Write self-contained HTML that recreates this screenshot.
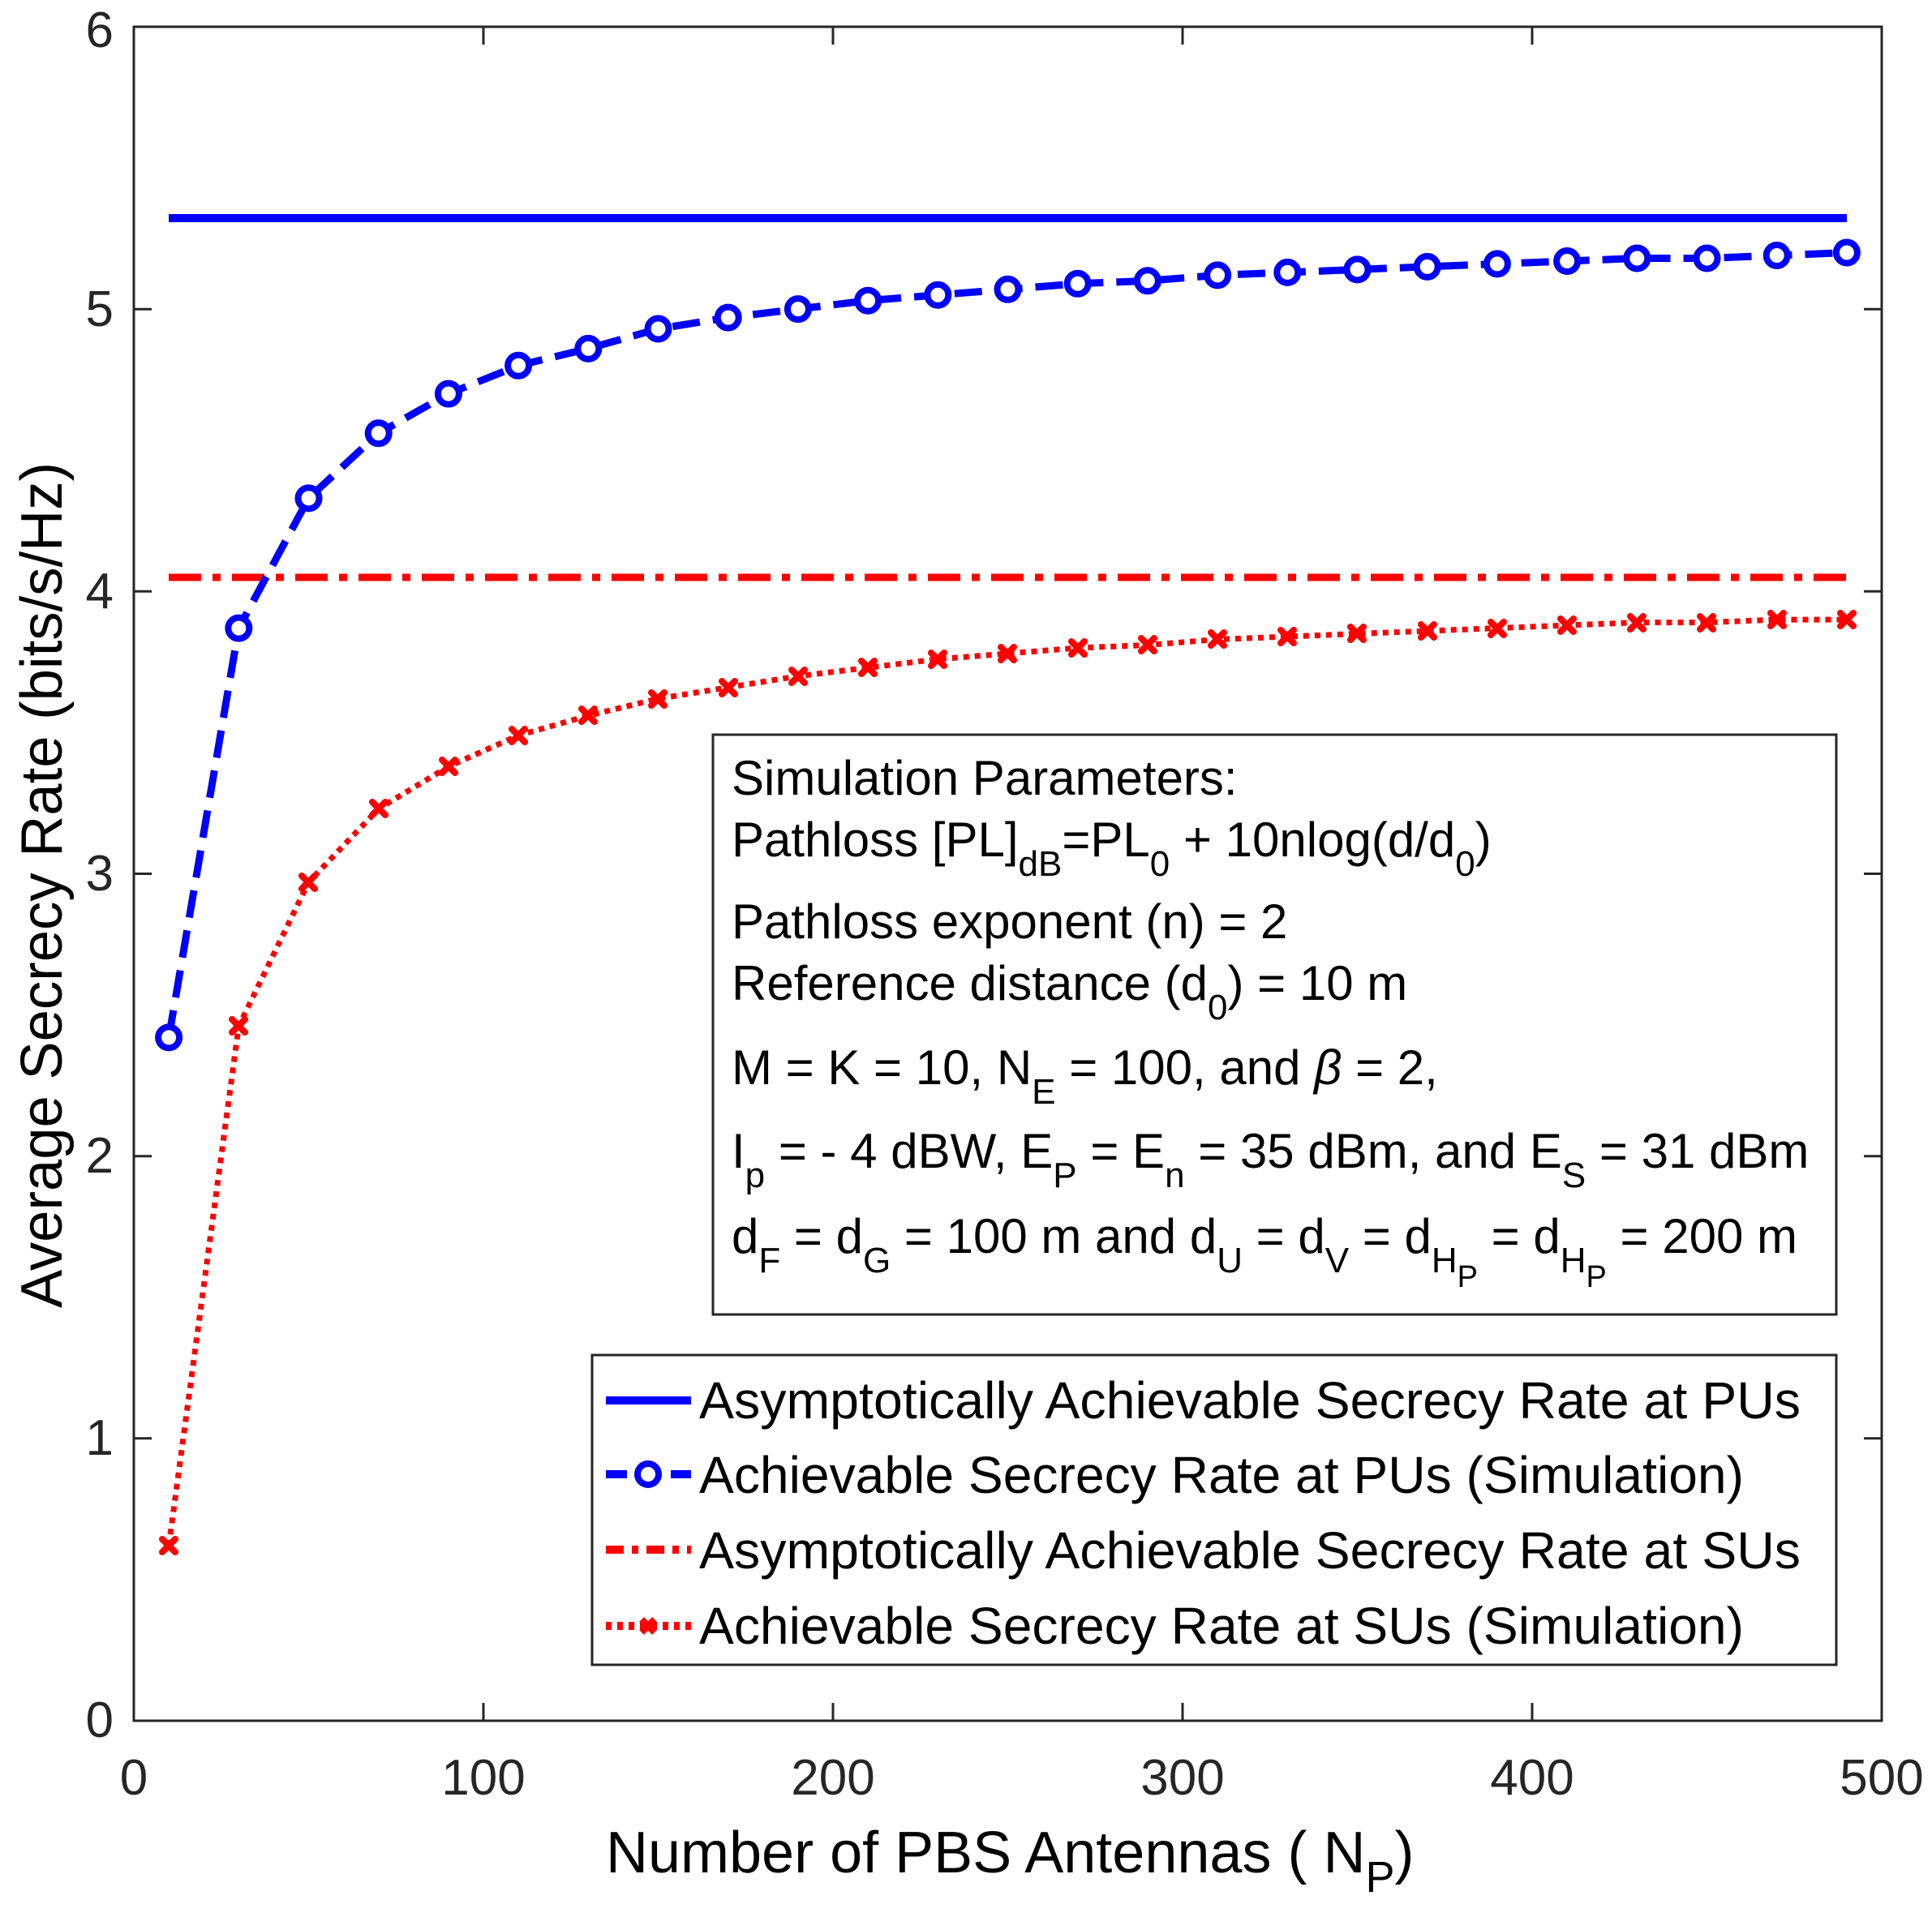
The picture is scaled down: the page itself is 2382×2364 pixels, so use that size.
<!DOCTYPE html>
<html><head><meta charset="utf-8"><style>html,body{margin:0;padding:0;background:#fff}svg{display:block}</style></head>
<body>
<svg xmlns="http://www.w3.org/2000/svg" width="2382" height="2364" viewBox="0 0 2382 2364" font-family="Liberation Sans, Arial, sans-serif">
<rect width="2382" height="2364" fill="#fff"/>
<g stroke="#262626" stroke-width="3">
<path d="M596 2122v-22M1027 2122v-22M1458 2122v-22M1889 2122v-22M596 33v22M1027 33v22M1458 33v22M1889 33v22"/>
<path d="M165 1773.8h22M165 1425.7h22M165 1077.5h22M165 729.3h22M165 381.2h22M2320 1773.8h-22M2320 1425.7h-22M2320 1077.5h-22M2320 729.3h-22M2320 381.2h-22"/>
</g>
<g fill="#262626" font-size="62">
<g text-anchor="end">
<text x="140" y="2142">0</text><text x="140" y="1794">1</text><text x="140" y="1446">2</text><text x="140" y="1098">3</text><text x="140" y="750">4</text><text x="140" y="402">5</text><text x="140" y="58">6</text>
</g>
<g text-anchor="middle">
<text x="165" y="2213">0</text><text x="596" y="2213">100</text><text x="1027" y="2213">200</text><text x="1458" y="2213">300</text><text x="1889" y="2213">400</text><text x="2320" y="2213">500</text>
</g>
</g>
<text x="747" y="2309" font-size="72" fill="#000">Number of PBS Antennas ( N<tspan font-size="54" dy="24">P</tspan><tspan dy="-24">)</tspan></text>
<text transform="translate(76,1613) rotate(-90)" font-size="72" fill="#000" textLength="1043" lengthAdjust="spacingAndGlyphs">Average Secrecy Rate (bits/s/Hz)</text>

<line x1="208" y1="269" x2="2277" y2="269" stroke="#0000ff" stroke-width="10"/>
<line x1="208" y1="712" x2="2277" y2="712" stroke="#ff0000" stroke-width="9" stroke-dasharray="40 14 10 14"/>
<polyline fill="none" stroke="#0000ff" stroke-width="9" stroke-dasharray="34 16" points="208.1,1279.4 294.3,774.6 380.5,614.4 466.7,534.3 552.9,485.6 639.1,450.8 725.3,429.9 811.5,405.5 897.7,391.6 983.9,381.1 1070.1,370.7 1156.3,363.7 1242.5,356.8 1328.7,349.8 1414.9,346.3 1501.1,339.4 1587.3,335.9 1673.5,332.4 1759.7,328.9 1845.9,325.4 1932.1,322 2018.3,318.5 2104.5,318.5 2190.7,315 2276.9,311.5"/>
<g fill="#fff" stroke="#0000ff" stroke-width="8">
<circle cx="208.1" cy="1279.4" r="13"/><circle cx="294.3" cy="774.6" r="13"/><circle cx="380.5" cy="614.4" r="13"/><circle cx="466.7" cy="534.3" r="13"/><circle cx="552.9" cy="485.6" r="13"/><circle cx="639.1" cy="450.8" r="13"/><circle cx="725.3" cy="429.9" r="13"/><circle cx="811.5" cy="405.5" r="13"/><circle cx="897.7" cy="391.6" r="13"/><circle cx="983.9" cy="381.1" r="13"/><circle cx="1070.1" cy="370.7" r="13"/><circle cx="1156.3" cy="363.7" r="13"/><circle cx="1242.5" cy="356.8" r="13"/><circle cx="1328.7" cy="349.8" r="13"/><circle cx="1414.9" cy="346.3" r="13"/><circle cx="1501.1" cy="339.4" r="13"/><circle cx="1587.3" cy="335.9" r="13"/><circle cx="1673.5" cy="332.4" r="13"/><circle cx="1759.7" cy="328.9" r="13"/><circle cx="1845.9" cy="325.4" r="13"/><circle cx="1932.1" cy="322" r="13"/><circle cx="2018.3" cy="318.5" r="13"/><circle cx="2104.5" cy="318.5" r="13"/><circle cx="2190.7" cy="315" r="13"/><circle cx="2276.9" cy="311.5" r="13"/>
</g>
<polyline fill="none" stroke="#ff0000" stroke-width="7" stroke-dasharray="7 7" points="208.1,1906.1 294.3,1265.5 380.5,1087.9 466.7,997.4 552.9,945.2 639.1,906.9 725.3,882.5 811.5,861.6 897.7,847.7 983.9,833.8 1070.1,823.3 1156.3,812.9 1242.5,805.9 1328.7,799 1414.9,795.5 1501.1,788.5 1587.3,785 1673.5,781.5 1759.7,778.1 1845.9,774.6 1932.1,771.1 2018.3,767.6 2104.5,767.6 2190.7,764.1 2276.9,764.1"/>
<g stroke="#ff0000" stroke-width="8" stroke-linecap="round">
<path d="M200 1898l16 16M216 1898l-16 16M286 1257l16 16M302 1257l-16 16M372 1080l16 16M388 1080l-16 16M459 989l16 16M475 989l-16 16M545 937l16 16M561 937l-16 16M631 899l16 16M647 899l-16 16M717 874l16 16M733 874l-16 16M803 854l16 16M819 854l-16 16M890 840l16 16M906 840l-16 16M976 826l16 16M992 826l-16 16M1062 815l16 16M1078 815l-16 16M1148 805l16 16M1164 805l-16 16M1234 798l16 16M1250 798l-16 16M1321 791l16 16M1337 791l-16 16M1407 787l16 16M1423 787l-16 16M1493 780l16 16M1509 780l-16 16M1579 777l16 16M1595 777l-16 16M1665 773l16 16M1681 773l-16 16M1752 770l16 16M1768 770l-16 16M1838 767l16 16M1854 767l-16 16M1924 763l16 16M1940 763l-16 16M2010 760l16 16M2026 760l-16 16M2096 760l16 16M2112 760l-16 16M2183 756l16 16M2199 756l-16 16M2269 756l16 16M2285 756l-16 16"/>
</g>

<rect x="879" y="906" width="1385" height="715" fill="#fff" stroke="#262626" stroke-width="3"/>
<g font-size="60" fill="#000">
<text x="902" y="980">Simulation Parameters:</text>
<text x="902" y="1056">Pathloss [PL]<tspan font-size="44" dy="24">dB</tspan><tspan dy="-24">=PL</tspan><tspan font-size="44" dy="24">0</tspan><tspan dy="-24"> + 10nlog(d/d</tspan><tspan font-size="44" dy="24">0</tspan><tspan dy="-24">)</tspan></text>
<text x="902" y="1157">Pathloss exponent (n) = 2</text>
<text x="902" y="1233">Reference distance (d<tspan font-size="44" dy="24">0</tspan><tspan dy="-24">) = 10 m</tspan></text>
<text x="902" y="1337">M = K = 10, N<tspan font-size="44" dy="24">E</tspan><tspan dy="-24"> = 100, and </tspan><tspan font-style="italic">β</tspan> = 2,</text>
<text x="902" y="1440">I<tspan font-size="44" dy="24">p</tspan><tspan dy="-24"> = - 4 dBW, E</tspan><tspan font-size="44" dy="24">P</tspan><tspan dy="-24"> = E</tspan><tspan font-size="44" dy="24">n</tspan><tspan dy="-24"> = 35 dBm, and E</tspan><tspan font-size="44" dy="24">S</tspan><tspan dy="-24"> = 31 dBm</tspan></text>
<text x="902" y="1545">d<tspan font-size="44" dy="24">F</tspan><tspan dy="-24"> = d</tspan><tspan font-size="44" dy="24">G</tspan><tspan dy="-24"> = 100 m and d</tspan><tspan font-size="44" dy="24">U</tspan><tspan dy="-24"> = d</tspan><tspan font-size="44" dy="24">V</tspan><tspan dy="-24"> = d</tspan><tspan font-size="44" dy="24">H</tspan><tspan font-size="38" dy="18">P</tspan><tspan dy="-42"> = d</tspan><tspan font-size="44" dy="24">H</tspan><tspan font-size="38" dy="18">P</tspan><tspan dy="-42"> =  200 m</tspan></text>
</g>

<rect x="730" y="1671" width="1534" height="382" fill="#fff" stroke="#262626" stroke-width="3"/>
<line x1="747" y1="1727" x2="852" y2="1727" stroke="#0000ff" stroke-width="10"/>
<line x1="747" y1="1818" x2="852" y2="1818" stroke="#0000ff" stroke-width="10" stroke-dasharray="26 14"/>
<circle cx="799" cy="1818" r="13" fill="#fff" stroke="#0000ff" stroke-width="8"/>
<line x1="747" y1="1911" x2="852" y2="1911" stroke="#ff0000" stroke-width="10" stroke-dasharray="22 10 8 10"/>
<line x1="747" y1="2005" x2="852" y2="2005" stroke="#ff0000" stroke-width="10" stroke-dasharray="7 7"/>
<path d="M791 1997l16 16M807 1997l-16 16" stroke="#ff0000" stroke-width="8"/>
<g font-size="64" fill="#000">
<text x="862" y="1749" textLength="1358" lengthAdjust="spacingAndGlyphs">Asymptotically Achievable Secrecy Rate at PUs</text>
<text x="862" y="1841" textLength="1288" lengthAdjust="spacingAndGlyphs">Achievable Secrecy Rate at PUs (Simulation)</text>
<text x="862" y="1934" textLength="1358" lengthAdjust="spacingAndGlyphs">Asymptotically Achievable Secrecy Rate at SUs</text>
<text x="862" y="2027" textLength="1288" lengthAdjust="spacingAndGlyphs">Achievable Secrecy Rate at SUs (Simulation)</text>
</g>

<rect x="165" y="33" width="2155" height="2089" fill="none" stroke="#262626" stroke-width="3"/>
</svg>
</body></html>
